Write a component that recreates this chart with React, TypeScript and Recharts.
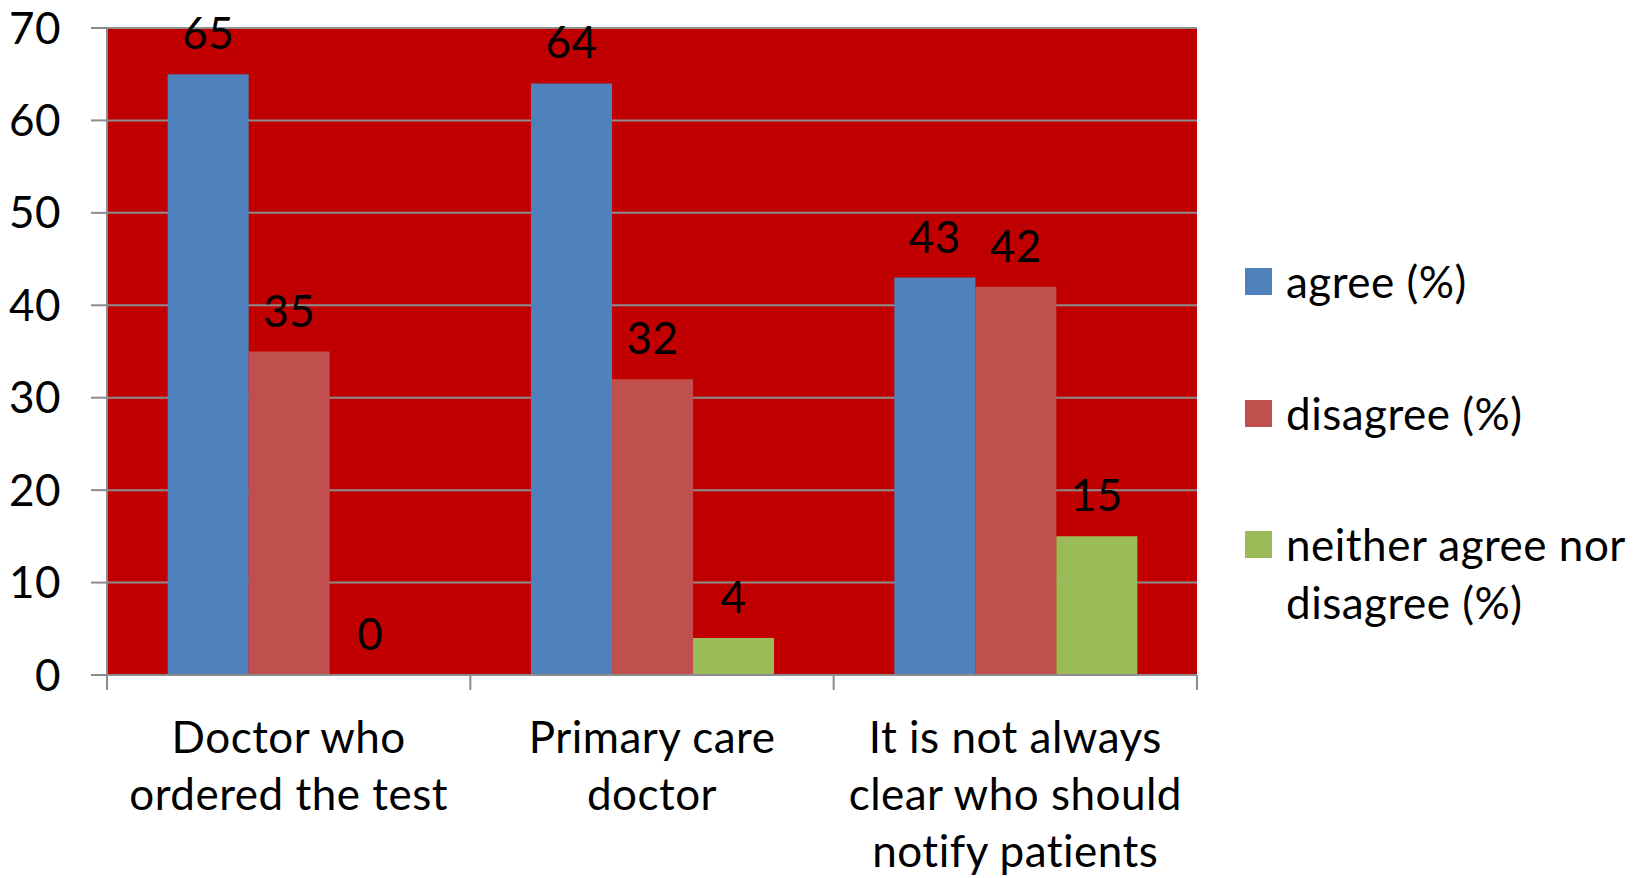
import React from 'react';
import { BarChart, Bar, XAxis, YAxis, CartesianGrid, Legend, LabelList } from 'recharts';

// Survey answers per statement
const categories = [
  'Doctor who\nordered the test',
  'Primary care\ndoctor',
  'It is not always\nclear who should\nnotify patients',
];
const agree = [65, 64, 43];
const disagree = [35, 32, 42];
const neither = [0, 4, 15];

const seriesKeys = ['agree', 'disagree', 'neither'];
const seriesNames = ['agree (%)', 'disagree (%)', 'neither agree nor\ndisagree (%)'];
const seriesColors = ['#4F81BD', '#C0504D', '#9BBB59'];
const yTicks = [0, 10, 20, 30, 40, 50, 60, 70];

const data = categories.map((name, i) => ({
  name,
  agree: agree[i],
  disagree: disagree[i],
  neither: neither[i],
}));

const FONT = 'Lato, "Open Sans", sans-serif';
const FONT_SIZE = 44;
const LETTER_SPACING = 0.5;
const AXIS_GRAY = '#8C8C8C';
const PLOT_BG = '#C00000';

const CHART_W = 1640;
const CHART_H = 878;
const MARGIN = { top: 28, right: 443, bottom: 0, left: 0 };
const Y_AXIS_W = 107;
const X_AXIS_H = 203;
const LINE_GAP = 57.3;

const CategoryTick = (props: any) => {
  const { x, y, payload } = props;
  const plotW = CHART_W - MARGIN.left - MARGIN.right - Y_AXIS_W;
  const half = typeof payload.offset === 'number' && payload.offset > 0 ? payload.offset : plotW / categories.length / 2;
  const lines = String(payload.value).split('\n');
  const isLast = payload.index === categories.length - 1;
  return (
    <g>
      <line x1={x - half} x2={x - half} y1={y} y2={y + 15} stroke={AXIS_GRAY} strokeWidth={2} />
      {isLast && <line x1={x + half} x2={x + half} y1={y} y2={y + 15} stroke={AXIS_GRAY} strokeWidth={2} />}
      <text
        x={x}
        y={y}
        textAnchor="middle"
        fontFamily={FONT}
        fontSize={FONT_SIZE}
        letterSpacing={LETTER_SPACING}
        fill="#000"
      >
        {lines.map((l, i) => (
          <tspan key={i} x={x} y={y + 77.7 + i * LINE_GAP}>
            {l}
          </tspan>
        ))}
      </text>
    </g>
  );
};

// Value label drawn above each bar, including bars of height zero
const ValueLabel = (props: any) => {
  const { x, y, width, value } = props;
  if (value === undefined || value === null) return null;
  return (
    <text
      x={Number(x) + Number(width) / 2}
      y={Number(y) - 25}
      textAnchor="middle"
      fontFamily={FONT}
      fontSize={FONT_SIZE}
      letterSpacing={LETTER_SPACING}
      fill="#000"
    >
      {String(value)}
    </text>
  );
};

const legendCenters = [281.5, 413.5, 545];

const LegendContent = () => (
  <div style={{ position: 'relative', width: '100%', height: '100%', fontFamily: FONT }}>
    {seriesNames.map((name, i) => (
      <div
        key={name}
        style={{
          position: 'absolute',
          left: 0,
          top: legendCenters[i] - LINE_GAP / 2,
          display: 'flex',
          alignItems: 'flex-start',
        }}
      >
        <div
          style={{
            width: 27,
            height: 27,
            marginTop: LINE_GAP / 2 - 13.5,
            background: seriesColors[i],
            flex: 'none',
          }}
        />
        <div
          style={{
            marginLeft: 14,
            fontSize: FONT_SIZE,
            letterSpacing: LETTER_SPACING,
            lineHeight: `${LINE_GAP}px`,
            whiteSpace: 'pre-line',
            color: '#000',
          }}
        >
          {name}
        </div>
      </div>
    ))}
  </div>
);

export default function App() {
  return (
    <div style={{ position: 'absolute', left: 0, top: 0, width: CHART_W, height: CHART_H, background: '#fff' }}>
      <BarChart
        width={CHART_W}
        height={CHART_H}
        data={data}
        margin={MARGIN}
        barCategoryGap="16.7%"
        barGap={0}
      >
        <CartesianGrid vertical={false} stroke={AXIS_GRAY} strokeWidth={2} fill={PLOT_BG} fillOpacity={1} />
        <XAxis
          dataKey="name"
          height={X_AXIS_H}
          interval={0}
          tickLine={false}
          tickSize={0}
          tickMargin={0}
          axisLine={{ stroke: AXIS_GRAY, strokeWidth: 2 }}
          tick={<CategoryTick />}
        />
        <YAxis
          width={Y_AXIS_W}
          domain={[0, 70]}
          ticks={yTicks}
          interval={0}
          tickSize={16}
          tickMargin={30}
          axisLine={{ stroke: AXIS_GRAY, strokeWidth: 2 }}
          tickLine={{ stroke: AXIS_GRAY, strokeWidth: 2 }}
          tick={{ fill: '#000', fontSize: FONT_SIZE, fontFamily: FONT, letterSpacing: LETTER_SPACING }}
        />
        {seriesKeys.map((key, i) => (
          <Bar
            key={key}
            dataKey={key}
            name={seriesNames[i]}
            fill={seriesColors[i]}
            minPointSize={0.01}
            isAnimationActive={false}
          >
            <LabelList dataKey={key} content={<ValueLabel />} />
          </Bar>
        ))}
        <Legend
          layout="vertical"
          align="center"
          verticalAlign="middle"
          wrapperStyle={{ left: 1245, top: 0, width: 395, height: CHART_H }}
          content={<LegendContent />}
        />
      </BarChart>
    </div>
  );
}
